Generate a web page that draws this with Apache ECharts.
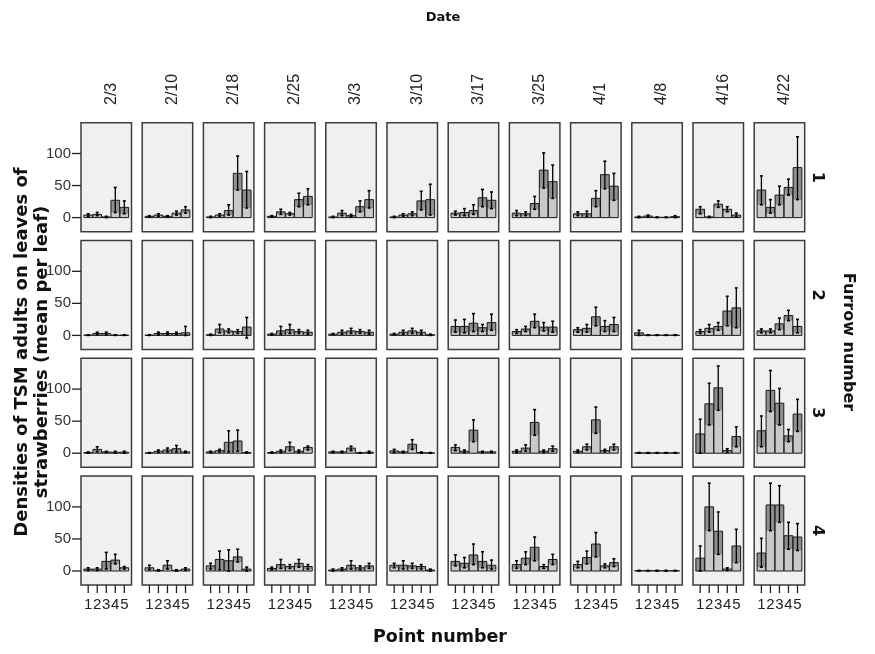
<!DOCTYPE html>
<html><head><meta charset="utf-8">
<script src="https://cdn.jsdelivr.net/npm/echarts@6/dist/echarts.min.js"></script>
<style>html,body{margin:0;padding:0;background:#fff}#c{width:875px;height:654px}</style>
</head><body><div id="c"></div><script>
const dates = ['2/3','2/10','2/18','2/25','3/3','3/10','3/17','3/25','4/1','4/8','4/16','4/22'];
const points = [1,2,3,4,5];
const furrows = ['1','2','3','4'];
const yTicks = [0,50,100];

// Furrow 1: mean / lower / upper per date (points 1..5)
const furrow1Mean = [[4,5,1,27,16],[2,4,2,7,12],[1,4,11,69,43],[2,9,6,28,33],[1,7,3,17,28],[1,4,6,26,28],[7,8,11,31,27],[7,6,22,74,56],[6,6,30,67,49],[1,2.5,0.5,0.5,1.5],[13,1,21,13,4],[43,16,35,47,78]];
const furrow1Low  = [[2,3,0,8,6],[1,2,1,4,7],[0,2,4,43,15],[1,5,4,17,20],[0,3,1,9,15],[0,2,3,12,4],[4,3,5,17,14],[3,3,13,46,30],[3,2,17,45,27],[0,1,0,0,0],[6,0,16,9,1],[20,7,20,35,28]];
const furrow1High = [[6,8,2,47,26],[3,6,3,10,17],[2,6,20,96,72],[3,13,8,38,45],[2,11,5,26,42],[2,6,9,41,52],[10,14,20,44,40],[11,9,33,101,82],[9,10,42,88,69],[2,4,1,1,3],[17,2,26,17,7],[65,28,49,60,126]];
// Furrow 2
const furrow2Mean = [[0.5,3,3,0.5,0.5],[0.5,3,3,3,4],[1,10,7,6,13],[2,7,9,6,5],[2,5,7,6,5],[2,5,7,5,1],[14,14,19,12,20],[6,10,22,13,13],[9,11,29,14,17],[4,0.5,0.5,0.5,0.5],[6,11,14,38,43],[7,7,18,31,14]];
const furrow2Low  = [[0,1,1,0,0],[0,1,1,1,0],[0,4,4,3,-4],[1,2,3,3,2],[1,2,3,3,2],[1,2,3,2,0],[5,4,6,6,8],[3,6,12,7,5],[5,5,15,6,6],[0,0,0,0,0],[3,5,8,15,12],[4,4,9,23,4]];
const furrow2High = [[1,5,5,1,1],[1,5,5,5,14],[2,17,10,9,28],[3,14,17,9,8],[3,8,11,9,8],[3,8,11,8,2],[24,25,34,17,33],[9,14,33,20,22],[12,17,44,23,28],[8,1,1,1,1],[9,17,20,61,74],[10,10,27,39,25]];
// Furrow 3
const furrow3Mean = [[1,6,2,1.5,1.5],[0.5,3,5,7,2],[2,4,17,19,1],[1,3,10,3,9],[2,2,8,0.5,1.5],[3.5,2,14,1,0.5],[9,3,36,2,2],[3,8,48,3,7],[3,10,52,4,10],[0.5,0.5,0.5,0.5,0.5],[30,77,102,4,26],[35,98,78,27,61]];
const furrow3Low  = [[0,2,1,0,0],[0,1,2,2,1],[1,2,2,3,0],[0,1,4,1,5],[1,1,4,0,0],[1,1,6,0,0],[4,1,18,1,1],[1,3,28,1,3],[1,5,31,2,5],[0,0,0,0,0],[0,44,67,1,10],[10,65,44,18,34]];
const furrow3High = [[2,10,3,3,3],[1,5,8,12,3],[3,6,35,36,2],[2,5,17,5,11],[3,3,11,1,3],[6,3,21,2,1],[13,5,52,3,3],[5,13,68,5,11],[5,14,72,6,14],[1,1,1,1,1],[53,109,136,7,41],[58,129,101,37,84]];
// Furrow 4
const furrow4Mean = [[3,3,15,17,5],[5,1,9,1,3],[8,18,16,22,3],[4,10,7,12,7],[1.5,3,9,5,8],[9,9,8,7,1.5],[15,12,25,15,9],[10,20,37,7,18],[10,21,42,8,13],[0.5,0.5,0.5,0.5,0.5],[20,100,62,3,39],[28,103,103,55,53]];
const furrow4Low  = [[1,1,3,11,3],[2,0,3,0,1],[3,2,0,14,0],[2,4,4,6,3],[0,1,3,2,4],[5,3,4,3,0],[8,5,10,5,3],[4,10,16,4,10],[5,11,22,5,7],[0,0,0,0,0],[0,63,26,1,13],[6,63,76,34,32]];
const furrow4High = [[5,5,29,26,7],[9,2,16,2,5],[12,31,33,34,6],[6,18,10,18,10],[3,5,16,8,12],[12,16,12,10,3],[25,21,42,30,17],[16,30,53,10,26],[15,31,60,11,19],[1,1,1,1,1],[39,137,92,5,65],[51,137,133,76,74]];

const means = [furrow1Mean, furrow2Mean, furrow3Mean, furrow4Mean];
const lows = [furrow1Low, furrow2Low, furrow3Low, furrow4Low];
const highs = [furrow1High, furrow2High, furrow3High, furrow4High];

const chart = echarts.init(document.getElementById('c'), null, {renderer:'canvas'});
// panel layout
const L0 = 81, SX = 61.2, PW = 50.5, T0 = 122.7, SY = 117.8, PH = 109;
// inner data area (x=1..5, y=0..100) relative to a panel
const IX = 7.2, IW = 36.1, IY = 30.8, IH = 64.1;
const BOFF = PH - IY - IH;
const grids = [], xAxes = [], yAxes = [], series = [], graphics = [];
const tickFont = 'Liberation Sans';
const borderCol = '#3d3d3d';

function renderItem(params, api) {
  const x = api.value(0), m = api.value(1), lo = api.value(2), hi = api.value(3);
  const p0 = api.coord([x, 0]), pm = api.coord([x, m]);
  const pl = api.coord([x, Math.max(0, Math.min(lo, m))]);
  const pLo = api.coord([x, lo]), pHi = api.coord([x, hi]);
  const w = api.size([1, 0])[0] * 0.96;
  const bx = p0[0] - w / 2;
  const cap = 1.5;
  return {
    type: 'group',
    children: [
      {type: 'rect', shape: {x: bx, y: pm[1], width: w, height: p0[1] - pm[1]}, style: {fill: '#c9c9c9'}},
      {type: 'rect', shape: {x: bx, y: pm[1], width: w, height: pl[1] - pm[1]}, style: {fill: '#8f8f8f'}},
      {type: 'rect', shape: {x: bx, y: pm[1], width: w, height: p0[1] - pm[1]}, style: {fill: 'none', stroke: '#1a1a1a', lineWidth: 1}},
      {type: 'line', shape: {x1: p0[0], y1: pLo[1], x2: p0[0], y2: pHi[1]}, style: {stroke: '#000', lineWidth: 1.3}},
      {type: 'line', shape: {x1: p0[0] - cap, y1: pHi[1], x2: p0[0] + cap, y2: pHi[1]}, style: {stroke: '#000', lineWidth: 1.6}},
      {type: 'line', shape: {x1: p0[0] - cap, y1: pLo[1], x2: p0[0] + cap, y2: pLo[1]}, style: {stroke: '#000', lineWidth: 1.6}}
    ]
  };
}
// tick marks along the panel bottom at x = 1..5
function renderXTick(params, api) {
  const p = api.coord([api.value(0), 0]);
  const yb = p[1] + BOFF;
  return {type: 'line', shape: {x1: p[0], y1: yb, x2: p[0], y2: yb + 8}, style: {stroke: '#222', lineWidth: 1.3}};
}
// tick marks along the panel left at y = 0, 50, 100
function renderYTick(params, api) {
  const p = api.coord([1, api.value(0)]);
  const xl = p[0] - IX;
  return {type: 'line', shape: {x1: xl - 9, y1: p[1], x2: xl, y2: p[1]}, style: {stroke: '#222', lineWidth: 1.3}};
}

let gi = 0;
for (let r = 0; r < furrows.length; r++) {
  for (let c = 0; c < dates.length; c++) {
    const pl = L0 + c * SX, pt = T0 + r * SY;
    grids.push({left: pl, top: pt, width: PW, height: PH, show: true,
      backgroundColor: '#f0f0f0', borderColor: borderCol, borderWidth: 1.5, containLabel: false, outerBoundsMode: 'none', z: 0});
    xAxes.push({type: 'value', gridIndex: gi, show: false, min: 0, max: 1});
    yAxes.push({type: 'value', gridIndex: gi, show: false, min: 0, max: 1});
    gi++;
    grids.push({left: pl + IX, top: pt + IY, width: IW, height: IH, show: false, containLabel: false, outerBoundsMode: 'none'});
    const bottom = r === furrows.length - 1, first = c === 0;
    xAxes.push({type: 'value', gridIndex: gi, min: 1, max: 5, interval: 1, position: 'bottom', offset: BOFF,
      axisLine: {show: false, onZero: false}, splitLine: {show: false}, axisTick: {show: false},
      axisLabel: {show: bottom, margin: 12, fontFamily: tickFont, fontSize: 15, color: '#222'}});
    yAxes.push({type: 'value', gridIndex: gi, min: 0, max: 100, interval: 50, position: 'left', offset: IX,
      axisLine: {show: false, onZero: false}, splitLine: {show: false}, axisTick: {show: false},
      axisLabel: {show: first, margin: 10, fontFamily: tickFont, fontSize: 15, color: '#333'}});
    const data = points.map((p, i) => [p, means[r][c][i], lows[r][c][i], highs[r][c][i]]);
    series.push({type: 'custom', xAxisIndex: gi, yAxisIndex: gi, renderItem: renderItem, data: data, silent: true, clip: false, z: 5});
    if (bottom) series.push({type: 'custom', xAxisIndex: gi, yAxisIndex: gi, renderItem: renderXTick, data: points.map(p => [p]), silent: true, clip: false, z: 5});
    if (first) series.push({type: 'custom', xAxisIndex: gi, yAxisIndex: gi, renderItem: renderYTick, data: yTicks.map(v => [v]), silent: true, clip: false, z: 5});
    gi++;
  }
}

dates.forEach((d, c) => {
  graphics.push({type: 'text', x: L0 + c * SX + PW / 2 + 5, y: 105, rotation: Math.PI / 2,
    style: {text: d, x: 0, y: 0, align: 'left', verticalAlign: 'middle', textAlign: 'left', textVerticalAlign: 'middle',
      font: '16px "Liberation Sans"', fill: '#222'}});
});
furrows.forEach((f, r) => {
  graphics.push({type: 'text', x: 817, y: T0 + r * SY + PH / 2, rotation: -Math.PI / 2,
    style: {text: f, x: 0, y: 0, align: 'center', verticalAlign: 'middle', textAlign: 'center', textVerticalAlign: 'middle',
      font: 'bold 16px "DejaVu Sans"', fill: '#111'}});
});
graphics.push({type: 'text', x: 443, y: 18, style: {text: 'Date', x: 0, y: 0, align: 'center', verticalAlign: 'middle', textAlign: 'center', textVerticalAlign: 'middle', font: 'bold 13px "DejaVu Sans"', fill: '#111'}});
graphics.push({type: 'text', x: 440, y: 637, style: {text: 'Point number', x: 0, y: 0, align: 'center', verticalAlign: 'middle', textAlign: 'center', textVerticalAlign: 'middle', font: 'bold 17.5px "DejaVu Sans"', fill: '#111'}});
graphics.push({type: 'text', x: 848, y: 342, rotation: -Math.PI / 2, style: {text: 'Furrow number', x: 0, y: 0, align: 'center', verticalAlign: 'middle', textAlign: 'center', textVerticalAlign: 'middle', font: 'bold 16px "DejaVu Sans"', fill: '#111'}});
graphics.push({type: 'text', x: 32, y: 352, rotation: Math.PI / 2, z: 100, style: {text: 'Densities of TSM adults on leaves of\nstrawberries (mean per leaf)', x: 0, y: 0, align: 'center', verticalAlign: 'middle', textAlign: 'center', textVerticalAlign: 'middle', lineHeight: 20, font: 'bold 18px "DejaVu Sans"', fill: '#111'}});

chart.setOption({
  animation: false,
  backgroundColor: '#ffffff',
  grid: grids, xAxis: xAxes, yAxis: yAxes, series: series,
  graphic: {elements: graphics}
});
</script></body></html>
